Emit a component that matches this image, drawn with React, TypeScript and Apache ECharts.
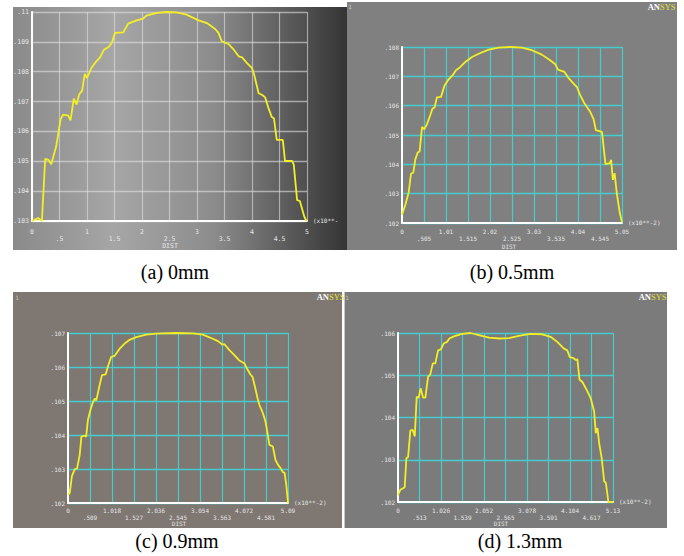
import React, { useEffect, useRef } from "react";
import * as echarts from "echarts";

// ---- data (DIST in x10**-2, value) ----
const curveA: [number, number][] = [
  [0, 0.103], [0.11, 0.1031], [0.18, 0.103], [0.24, 0.10508], [0.3, 0.10505], [0.35, 0.1049],
  [0.44, 0.1055], [0.52, 0.10641], [0.565, 0.10656], [0.66, 0.10653], [0.7, 0.10637], [0.76, 0.1071],
  [0.81, 0.1069], [0.86, 0.10725], [0.91, 0.10736], [0.96, 0.10793], [1.0, 0.10779], [1.08, 0.10812],
  [1.17, 0.10835], [1.23, 0.10846], [1.31, 0.10874], [1.39, 0.10882], [1.45, 0.10896], [1.51, 0.1093],
  [1.66, 0.10932], [1.75, 0.10961], [1.9, 0.10972], [2.02, 0.10978], [2.08, 0.10988], [2.27, 0.10997],
  [2.45, 0.11], [2.63, 0.10999], [2.81, 0.10991], [3.03, 0.10972], [3.18, 0.10963], [3.33, 0.10943],
  [3.39, 0.1093], [3.45, 0.10902], [3.57, 0.10893], [3.66, 0.10876], [3.76, 0.10851], [3.82, 0.10848],
  [3.91, 0.10829], [4.0, 0.10812], [4.04, 0.1079], [4.12, 0.10728], [4.18, 0.10723], [4.24, 0.10714],
  [4.3, 0.10678], [4.36, 0.10648], [4.4, 0.10643], [4.45, 0.10572], [4.56, 0.10572], [4.6, 0.10501],
  [4.73, 0.10501], [4.76, 0.10488], [4.82, 0.1037], [4.87, 0.10367], [4.95, 0.10315], [4.99, 0.103],
];
const curveB: [number, number][] = [
  [0, 0.10228], [0.077, 0.10262], [0.153, 0.10304], [0.207, 0.10368], [0.26, 0.10372], [0.306, 0.10417],
  [0.36, 0.1044], [0.405, 0.10444], [0.46, 0.10528], [0.51, 0.10519], [0.574, 0.10537], [0.65, 0.10568],
  [0.7, 0.1059], [0.75, 0.10594], [0.8, 0.10628], [0.895, 0.1063], [0.98, 0.1067], [1.056, 0.10687],
  [1.163, 0.10704], [1.24, 0.10721], [1.34, 0.10732], [1.454, 0.10749], [1.607, 0.10766], [1.76, 0.10777],
  [1.99, 0.10791], [2.22, 0.10798], [2.49, 0.108], [2.75, 0.10798], [2.98, 0.10789], [3.21, 0.10774],
  [3.4, 0.10755], [3.52, 0.10741], [3.58, 0.10723], [3.73, 0.10715], [3.83, 0.10693], [3.94, 0.10675],
  [4.02, 0.10662], [4.09, 0.10636], [4.19, 0.10607], [4.32, 0.10579], [4.4, 0.10553], [4.45, 0.10517],
  [4.59, 0.10511], [4.67, 0.10401], [4.77, 0.10404], [4.8, 0.10415], [4.84, 0.10347], [4.88, 0.1037],
  [4.93, 0.10302], [5.0, 0.10234], [5.05, 0.10202],
];
const curveC: [number, number][] = [
  [0, 0.10224], [0.04, 0.10229], [0.09, 0.10279], [0.154, 0.10299], [0.21, 0.10302], [0.27, 0.10341],
  [0.31, 0.10395], [0.385, 0.10398], [0.42, 0.10395], [0.46, 0.10444], [0.517, 0.10473], [0.578, 0.10497],
  [0.617, 0.10507], [0.655, 0.10502], [0.73, 0.10546], [0.786, 0.10576], [0.87, 0.10578], [0.925, 0.10602],
  [1.0, 0.1063], [1.08, 0.10633], [1.195, 0.10654], [1.31, 0.10669], [1.426, 0.1068], [1.58, 0.10688],
  [1.81, 0.10695], [2.04, 0.10698], [2.5, 0.107], [2.89, 0.10699], [3.12, 0.10695], [3.35, 0.10683],
  [3.47, 0.10676], [3.57, 0.10666], [3.62, 0.10667], [3.74, 0.10649], [3.85, 0.10635], [3.955, 0.1062],
  [4.086, 0.1061], [4.16, 0.10591], [4.22, 0.10578], [4.27, 0.10571], [4.32, 0.10545], [4.39, 0.10506],
  [4.43, 0.10488], [4.51, 0.10464], [4.57, 0.10439], [4.61, 0.1041], [4.66, 0.10371], [4.74, 0.10366],
  [4.8, 0.10327], [4.86, 0.10312], [4.91, 0.10304], [4.97, 0.10291], [5.01, 0.10289], [5.05, 0.10254],
  [5.09, 0.102],
];
const curveD: [number, number][] = [
  [0, 0.10216], [0.056, 0.10229], [0.11, 0.10232], [0.16, 0.10235], [0.2, 0.10304], [0.24, 0.10306],
  [0.295, 0.10369], [0.35, 0.10371], [0.4, 0.10355], [0.446, 0.10449], [0.494, 0.10447], [0.54, 0.10469],
  [0.6, 0.10447], [0.653, 0.10447], [0.717, 0.10496], [0.77, 0.10502], [0.83, 0.10528], [0.89, 0.10528],
  [0.956, 0.10559], [1.02, 0.10561], [1.09, 0.10575], [1.17, 0.10579], [1.227, 0.10587], [1.33, 0.10592],
  [1.53, 0.10598], [1.73, 0.106], [1.93, 0.10595], [2.17, 0.10589], [2.41, 0.10587], [2.645, 0.10588],
  [2.88, 0.10593], [3.16, 0.10598], [3.44, 0.10597], [3.64, 0.10591], [3.8, 0.10579], [3.96, 0.10563],
  [4.04, 0.10559], [4.1, 0.10543], [4.18, 0.10541], [4.24, 0.10536], [4.28, 0.10538], [4.33, 0.1049],
  [4.4, 0.10484], [4.52, 0.10462], [4.6, 0.10445], [4.68, 0.10414], [4.72, 0.10363], [4.76, 0.10375],
  [4.8, 0.10339], [4.86, 0.10304], [4.92, 0.10249], [4.96, 0.10245], [5.02, 0.102], [5.13, 0.102],
];

// ---- x tick labels ----
const xTicksA = ["0", ".5", "1", "1.5", "2", "2.5", "3", "3.5", "4", "4.5", "5"];
const xTicksB = ["0", ".505", "1.01", "1.515", "2.02", "2.525", "3.03", "3.535", "4.04", "4.545", "5.05"];
const xTicksC = ["0", ".509", "1.018", "1.527", "2.036", "2.545", "3.054", "3.563", "4.072", "4.581", "5.09"];
const xTicksD = ["0", ".513", "1.026", "1.539", "2.052", "2.565", "3.078", "3.591", "4.104", "4.617", "5.13"];

// ---- axis ranges ----
const xMax = [5, 5.05, 5.09, 5.13];
const yMin = [0.103, 0.102, 0.102, 0.102];
const yMax = [0.11, 0.108, 0.107, 0.106];
const captions = ["(a) 0mm", "(b) 0.5mm", "(c) 0.9mm", "(d) 1.3mm"];

// values are plotted in thousandths to keep the 0.001 tick step exact
const toMilli = (v: number) => Math.round(v * 1e6) / 1e3;
const fmtY = (m: number) => (m / 1000).toFixed(3).replace(/0+$/, "").replace(/^0/, "");

export default function App() {
  const ref = useRef<HTMLDivElement>(null);
  useEffect(() => {
    if (!ref.current) return;
    const chart = echarts.init(ref.current, null, { renderer: "svg" });
    const curves = [curveA, curveB, curveC, curveD];
    const ticks = [xTicksA, xTicksB, xTicksC, xTicksD];
    const grids = [
      { left: 32, top: 12, width: 275, height: 209 },
      { left: 402, top: 47, width: 220, height: 176 },
      { left: 68, top: 333, width: 220, height: 170 },
      { left: 398, top: 333, width: 215, height: 169 },
    ];
    const gridColor = ["rgba(225,225,225,0.6)", "#46cccc", "#46cccc", "#46cccc"];
    const labMargin = [7, 5, 4, 5];
    const labelFont = "DejaVu Sans Mono";

    const xAxis = grids.map((_, i) => ({
      type: "value",
      gridIndex: i,
      min: 0,
      max: xMax[i],
      interval: xMax[i] / 10,
      axisLine: { show: true, onZero: false, lineStyle: { color: "#ffffff", width: 2 } },
      axisTick: { show: false },
      splitLine: { show: true, lineStyle: { color: gridColor[i], width: 1.2 } },
      axisLabel: {
        color: "#e6e6e6",
        fontSize: i === 0 ? 6.5 : 6,
        fontFamily: labelFont,
        margin: labMargin[i],
        lineHeight: 7,
        formatter: (_v: number, idx: number) => (idx % 2 ? "\n" : "") + ticks[i][idx],
      },
      name: "(x10**-2)",
      nameLocation: "end",
      nameGap: 6,
      nameTextStyle: {
        color: "#e6e6e6",
        fontSize: 6,
        fontFamily: labelFont,
        verticalAlign: "bottom",
        padding: [0, 0, -2, 0],
      },
      nameTruncate: i === 0 ? { maxWidth: 28, ellipsis: "" } : undefined,
    }));
    const yAxis = grids.map((_, i) => ({
      type: "value",
      gridIndex: i,
      min: toMilli(yMin[i]),
      max: toMilli(yMax[i]),
      interval: 1,
      axisLine: { show: true, lineStyle: { color: "#ffffff", width: 2 } },
      axisTick: { show: false },
      splitLine: { show: true, lineStyle: { color: gridColor[i], width: 1.4, opacity: 1 } },
      axisLabel: {
        color: "#e6e6e6",
        fontSize: i === 0 ? 6.5 : 6,
        fontFamily: labelFont,
        margin: 3,
        formatter: (v: number) => fmtY(v),
      },
    }));
    const series = curves.map((c, i) => ({
      type: "line",
      xAxisIndex: i,
      yAxisIndex: i,
      data: c.map(([x, y]) => [x, toMilli(y)]),
      showSymbol: false,
      symbol: "none",
      lineStyle: { color: "#f3ef24", width: 1.8 },
      z: 5,
    }));

    const txt = (text: string, x: number, y: number, fill: string, font: string, align = "center", vAlign = "middle", z = 50) => ({
      type: "text",
      z,
      style: { text, x, y, fill, font, textAlign: align, align, textVerticalAlign: vAlign, verticalAlign: vAlign },
    });

    const graphic: any[] = [
      {
        type: "rect", z: -100,
        shape: { x: 13, y: 7, width: 334, height: 243 },
        style: {
          fill: {
            type: "linear", x: 0, y: 0, x2: 1, y2: 0,
            colorStops: [
              { offset: 0, color: "#8a8a8a" },
              { offset: 0.3, color: "#a6a6a6" },
              { offset: 0.6, color: "#8c8c8c" },
              { offset: 1, color: "#343434" },
            ],
          },
        },
      },
      { type: "rect", z: -100, shape: { x: 347, y: 2, width: 330, height: 248 }, style: { fill: "#808080" } },
      { type: "rect", z: -100, shape: { x: 13, y: 292, width: 329, height: 236 }, style: { fill: "#7e7772" } },
      { type: "rect", z: -100, shape: { x: 344, y: 292, width: 323, height: 236 }, style: { fill: "#7b7b7b" } },
      { type: "line", z: -90, shape: { x1: 344.5, y1: 292, x2: 344.5, y2: 528 }, style: { stroke: "#c8c8c8", lineWidth: 1 } },
      // DIST labels
      txt("DIST", 170, 246, "#e6e6e6", `6.5px ${labelFont}`),
      txt("DIST", 509, 246, "#e6e6e6", `6px ${labelFont}`),
      txt("DIST", 179, 523.5, "#e6e6e6", `6px ${labelFont}`),
      txt("DIST", 501, 523, "#e6e6e6", `6px ${labelFont}`),
      // window numbers
      txt("1", 350, 6, "#c8c8a0", `6px ${labelFont}`),
      txt("1", 17, 297, "#c8c8a0", `6px ${labelFont}`),
      txt("1", 347, 297, "#c8c8a0", `6px ${labelFont}`),
      // ANSYS logos
      txt("AN", 660, 7, "#ffffff", "bold 8.5px Liberation Serif", "right"),
      txt("SYS", 660, 7, "#e6e22a", "8.5px Liberation Serif", "left"),
      txt("AN", 329, 297, "#ffffff", "bold 8.5px Liberation Serif", "right"),
      txt("SYS", 329, 297, "#e6e22a", "8.5px Liberation Serif", "left"),
      txt("AN", 651, 297, "#ffffff", "bold 8.5px Liberation Serif", "right"),
      txt("SYS", 651, 297, "#e6e22a", "8.5px Liberation Serif", "left"),
      // captions
      txt(captions[0], 175, 272, "#000000", "20px Liberation Serif"),
      txt(captions[1], 512, 272, "#000000", "20px Liberation Serif"),
      txt(captions[2], 177, 541, "#000000", "20px Liberation Serif"),
      txt(captions[3], 520, 541, "#000000", "20px Liberation Serif"),
    ];

    chart.setOption({
      animation: false,
      backgroundColor: "#ffffff",
      grid: grids.map((g) => ({ ...g, containLabel: false })),
      xAxis,
      yAxis,
      series,
      graphic,
    } as any);
    return () => chart.dispose();
  }, []);
  return (
    <div
      ref={ref}
      style={{ position: "fixed", left: 0, top: 0, width: 684, height: 556 }}
    />
  );
}
